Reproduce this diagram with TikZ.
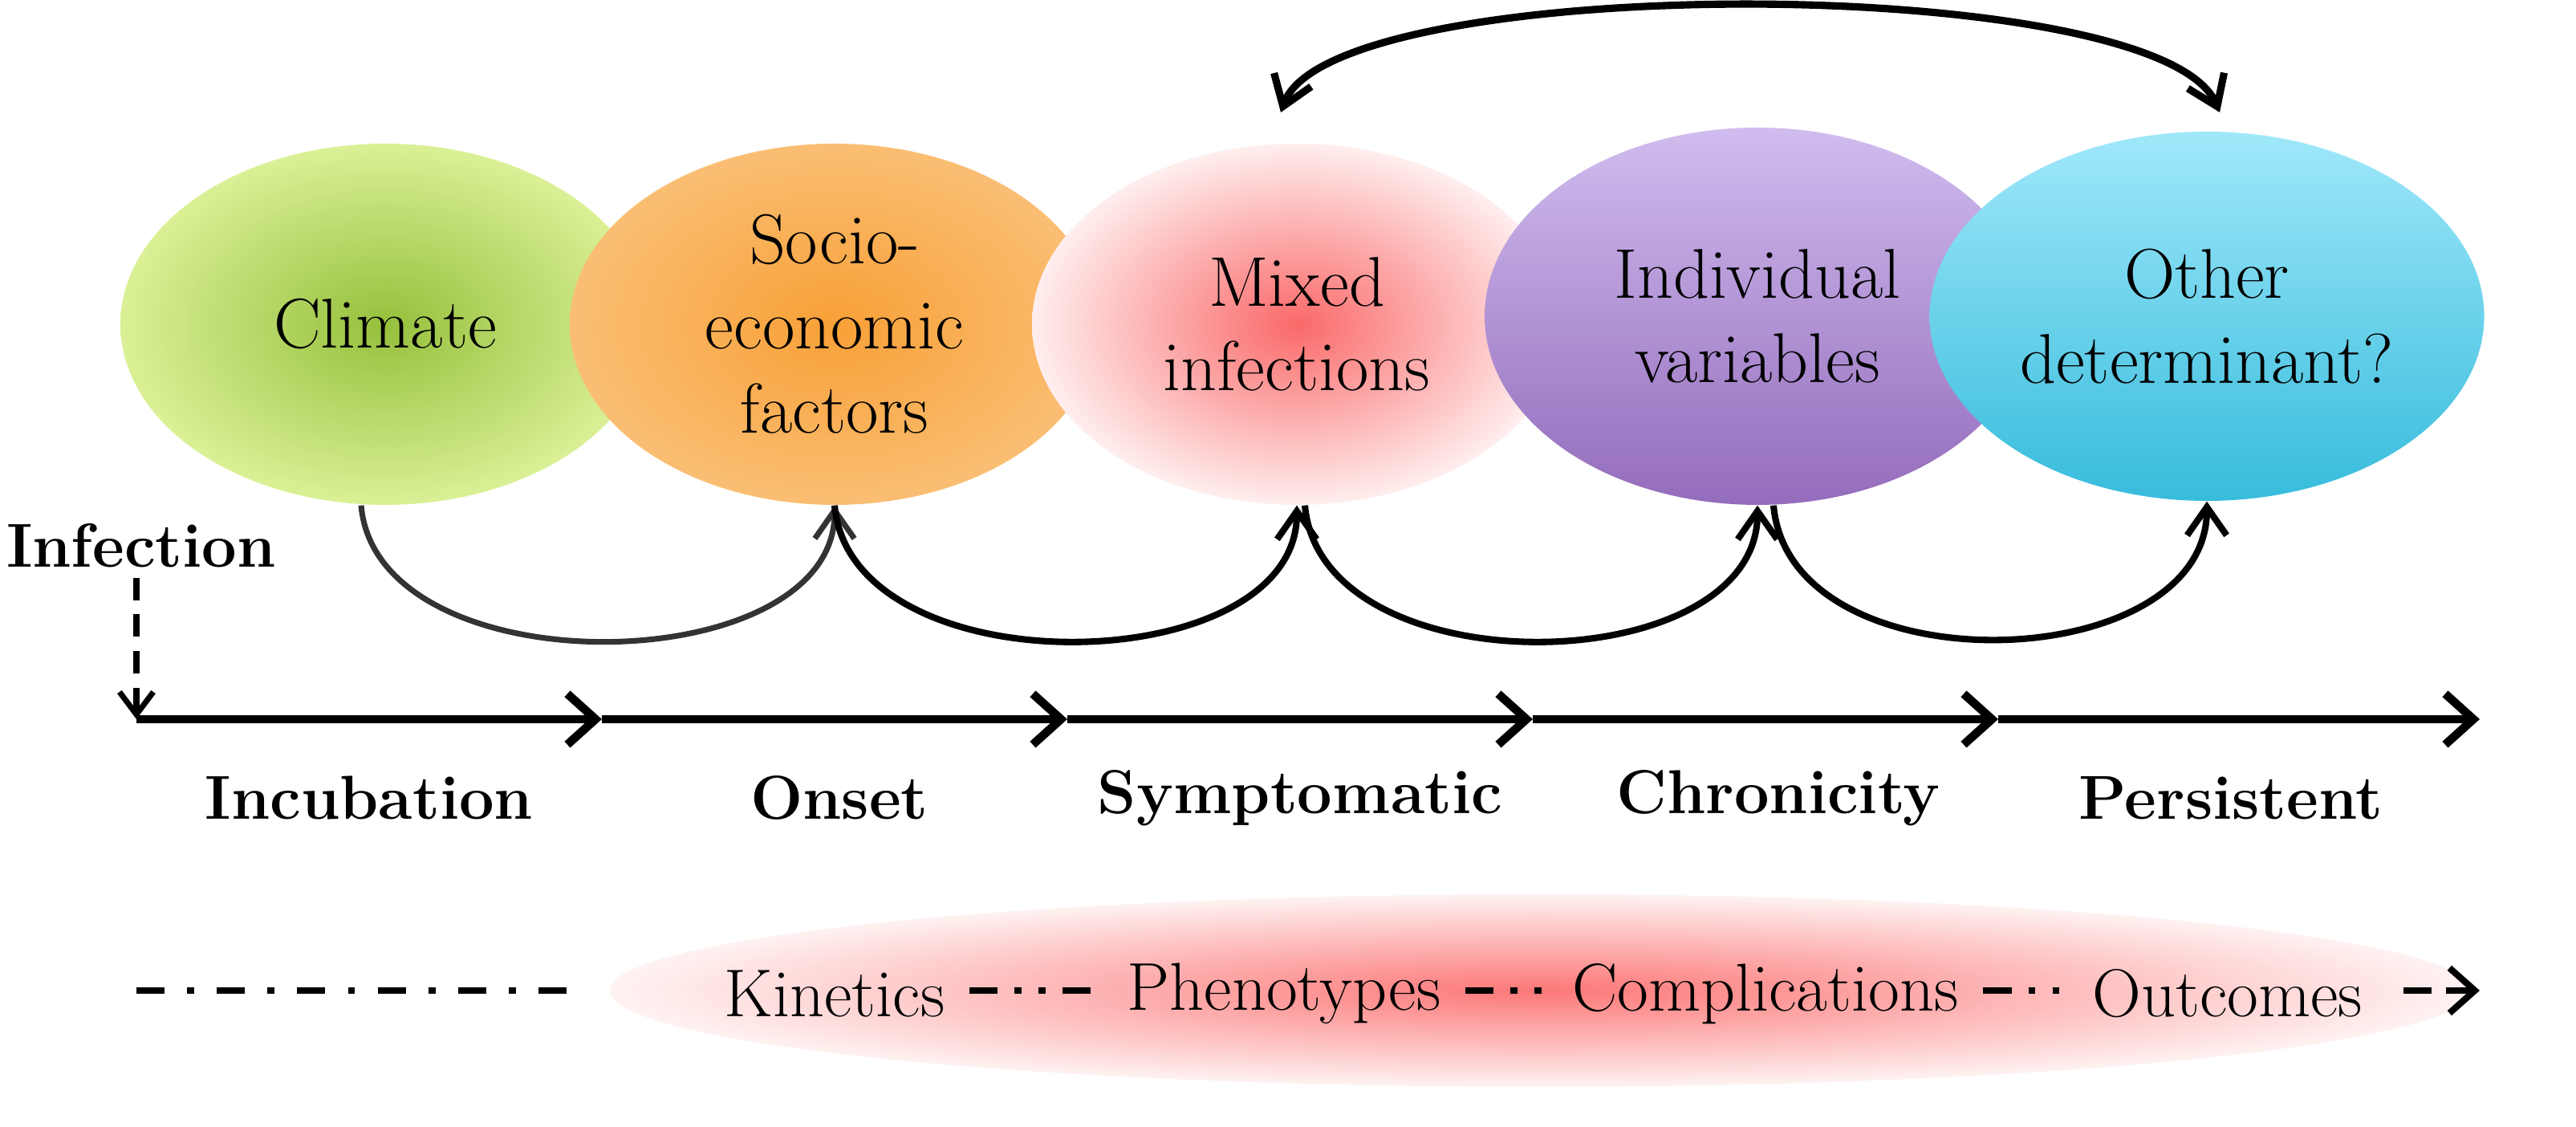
\documentclass[tikz,border=0pt]{standalone}
\usepackage{tikz}
\usetikzlibrary{shapes.geometric}
\usetikzlibrary{arrows.meta}
\usetikzlibrary{positioning}

\definecolor{climIn}{RGB}{150,192,60}
\definecolor{climOut}{RGB}{218,240,150}
\definecolor{socIn}{RGB}{248,160,55}
\definecolor{socOut}{RGB}{250,190,115}
\definecolor{mixIn}{RGB}{250,105,105}
\definecolor{mixOut}{RGB}{255,238,238}
\definecolor{indTop}{RGB}{208,188,238}
\definecolor{indBot}{RGB}{148,108,188}
\definecolor{othTop}{RGB}{160,232,250}
\definecolor{othBot}{RGB}{55,188,220}
\definecolor{fateIn}{RGB}{252,120,120}
\definecolor{fateOut}{RGB}{255,242,242}

\tikzset{
  blob/.style={ellipse, minimum width=6.6cm, minimum height=4.5cm, align=center,
    font=\fontsize{25}{30}\selectfont},
  stage/.style={font=\bfseries\fontsize{22}{26}\selectfont},
  fate/.style={font=\fontsize{24}{29}\selectfont, inner sep=0pt},
  loop/.style={line width=2.3pt, -{Straight Barb[length=10pt,width=14pt]}},
  axis/.style={line width=3pt, -{Straight Barb[length=10pt,width=18pt]}},
  dashdot/.style={line width=2.3pt, dash pattern=on 10pt off 6pt on 2.5pt off 6pt on 2.5pt off 6pt}
}

\begin{document}
\begin{tikzpicture}
\useasboundingbox (0,0) rectangle (32.1,14.04);

% pathogen determinants
\node[blob, inner color=climIn, outer color=climOut] (clim) at (4.8,10.0) {Climate};
\node[blob, inner color=socIn, outer color=socOut] (soc) at (10.4,10.0) {Socio-\\economic\\factors};
\node[blob, inner color=mixIn, outer color=mixOut] (mix) at (16.16,10.0) {Mixed\\infections};
\node[blob, top color=indTop, bottom color=indBot, minimum width=6.8cm, minimum height=4.7cm] (ind) at (21.9,10.1) {Individual\\variables};
\node[blob, top color=othTop, bottom color=othBot, minimum width=5.4cm, minimum height=4.6cm] (oth) at (27.5,10.1) {Other\\determinant?};

\draw[loop, line width=2pt, black!80] ([xshift=-0.3cm]clim.south) .. controls +(0.2,-2.3) and +(0,-2.2) .. (soc.south);
\draw[loop] (soc.south) .. controls +(0.2,-2.3) and +(0,-2.2) .. (mix.south);
\draw[loop] ([xshift=0.1cm]mix.south) .. controls +(0.2,-2.3) and +(0,-2.2) .. (ind.south);
\draw[loop] ([xshift=0.2cm]ind.south) .. controls +(0.2,-2.3) and +(0,-2.2) .. (oth.south);
\coordinate (topL) at (15.96,12.64);
\coordinate (topR) at (27.66,12.64);
\draw[loop, line width=2.6pt, {Straight Barb[length=10pt,width=14pt]}-{Straight Barb[length=10pt,width=14pt]}] (topL) .. controls (16.6,14.4) and (26.9,14.4) .. (topR);

% time axis
\node[stage] (inf) at (1.76,7.24) {Infection};
\coordinate (t0) at (1.7,5.08);
\coordinate (t1) at (7.5,5.08);
\coordinate (t2) at (13.3,5.08);
\coordinate (t3) at (19.1,5.08);
\coordinate (t4) at (24.9,5.08);
\coordinate (t5) at (30.9,5.08);
\draw[line width=2pt, dash pattern=on 8pt off 5pt, -{Straight Barb[length=8pt,width=12pt]}] (inf.south -| t0) -- (t0);
\foreach \a/\b in {t0/t1, t1/t2, t2/t3, t3/t4, t4/t5}
  \draw[axis] (\a) -- (\b);

\node[stage] (incub) at (4.6,4.1) {Incubation};
\node[stage] (onset) at (10.46,4.1) {Onset};
\node[stage] (sympt) at (16.2,4.1) {Symptomatic};
\node[stage] (chron) at (22.16,4.1) {Chronicity};
\node[stage] (pers) at (27.8,4.1) {Persistent};

% consequences
\shade[inner color=fateIn, outer color=fateOut] (19.2,1.7) ellipse (11.6cm and 1.2cm);
\node[fate] (kin) at (10.4,1.66) {Kinetics};
\node[fate] (phe) at (16.0,1.66) {Phenotypes};
\node[fate] (com) at (22.0,1.66) {Complications};
\node[fate] (out) at (27.76,1.66) {Outcomes};
\coordinate (s0) at (1.7,1.7);
\coordinate (s1) at (7.1,1.7);
\coordinate (s2) at (30.9,1.7);
\draw[line width=2.3pt, dash pattern=on 10pt off 8pt on 2.5pt off 8pt] (s0) -- (s1);
\draw[dashdot] ([xshift=0.3cm]kin.east |- s0) -- ([xshift=-0.3cm]phe.west |- s0);
\draw[dashdot] ([xshift=0.3cm]phe.east |- s0) -- ([xshift=-0.3cm]com.west |- s0);
\draw[dashdot] ([xshift=0.3cm]com.east |- s0) -- ([xshift=-0.3cm]out.west |- s0);
\draw[line width=2.3pt, dash pattern=on 10pt off 5pt, -{Straight Barb[length=9pt,width=16pt]}] ([xshift=0.5cm]out.east |- s0) -- (s2);
\end{tikzpicture}
\end{document}
